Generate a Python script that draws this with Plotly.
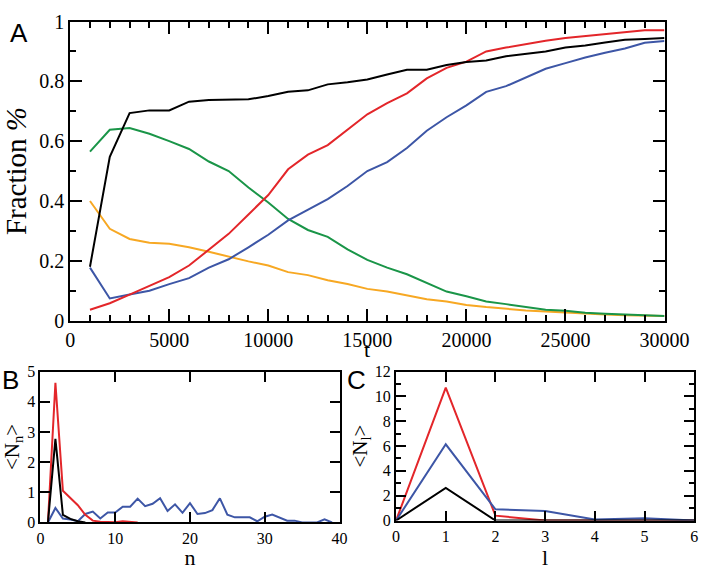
import plotly.graph_objects as go

# ---------------- data ----------------
t_vals = [1000, 2000, 3000, 4000, 5000, 6000, 7000, 8000, 9000, 10000,
          11000, 12000, 13000, 14000, 15000, 16000, 17000, 18000, 19000, 20000,
          21000, 22000, 23000, 24000, 25000, 26000, 27000, 28000, 29000, 30000]
black_A = [0.180, 0.548, 0.694, 0.703, 0.703, 0.732, 0.738, 0.738, 0.740, 0.751,
           0.765, 0.770, 0.790, 0.797, 0.806, 0.823, 0.839, 0.839, 0.855, 0.865,
           0.870, 0.884, 0.893, 0.900, 0.913, 0.920, 0.930, 0.939, 0.942, 0.945]
red_A = [0.036, 0.058, 0.087, 0.116, 0.145, 0.184, 0.238, 0.290, 0.355, 0.420,
         0.506, 0.555, 0.587, 0.640, 0.690, 0.727, 0.760, 0.810, 0.845, 0.866,
         0.900, 0.913, 0.925, 0.936, 0.945, 0.952, 0.958, 0.964, 0.971, 0.971]
blue_A = [0.177, 0.074, 0.087, 0.100, 0.122, 0.142, 0.177, 0.205, 0.245, 0.287,
          0.335, 0.370, 0.406, 0.450, 0.500, 0.530, 0.577, 0.635, 0.680, 0.720,
          0.765, 0.784, 0.813, 0.842, 0.861, 0.880, 0.896, 0.910, 0.929, 0.935]
green_A = [0.565, 0.638, 0.644, 0.625, 0.600, 0.574, 0.532, 0.500, 0.445, 0.395,
           0.340, 0.303, 0.280, 0.238, 0.203, 0.177, 0.155, 0.125, 0.097, 0.081,
           0.064, 0.055, 0.045, 0.036, 0.033, 0.026, 0.023, 0.020, 0.017, 0.015]
orange_A = [0.400, 0.307, 0.273, 0.260, 0.257, 0.245, 0.230, 0.213, 0.198, 0.184,
            0.162, 0.152, 0.135, 0.122, 0.106, 0.097, 0.084, 0.071, 0.064, 0.052,
            0.045, 0.039, 0.034, 0.030, 0.026, 0.022, 0.020, 0.018, 0.016, 0.015]

n_blue = [1, 2, 3, 4, 5, 6, 7, 8, 9, 10, 11, 12, 13, 14, 15, 16, 17, 18, 19, 20,
          21, 22, 23, 24, 25, 26, 27, 28, 29, 30, 31, 32, 33, 34, 35, 36, 37, 38, 39]
blue_B = [0.0, 0.48, 0.13, 0.10, 0.04, 0.28, 0.36, 0.13, 0.33, 0.33,
          0.52, 0.52, 0.79, 0.54, 0.62, 0.80, 0.38, 0.60, 0.32, 0.64,
          0.28, 0.31, 0.41, 0.80, 0.26, 0.17, 0.17, 0.17, 0.04, 0.19,
          0.26, 0.17, 0.06, 0.06, 0.0, 0.0, 0.0, 0.10, 0.0]
n_red = [1, 2, 3, 4, 5, 6, 7, 8, 9, 10, 11, 12, 13]
red_B = [0.0, 4.63, 1.05, 0.80, 0.57, 0.25, 0.06, 0.02, 0.01, 0.01, 0.04, 0.03, 0.0]
n_black = [1, 2, 3, 4, 5, 6]
black_B = [0.0, 2.77, 0.25, 0.12, 0.04, 0.0]

l_vals = [0, 1, 2, 3, 4, 5, 6]
red_C = [0.0, 10.7, 0.39, 0.0, 0.0, 0.0, 0.0]
blue_C = [0.0, 6.14, 0.90, 0.77, 0.08, 0.18, 0.0]
black_C = [0.0, 2.63, 0.0, 0.0, 0.0, 0.0, 0.0]

# ---------------- style ----------------
BLACK = "#000000"
RED = "#e3262a"
BLUE = "#3d56a6"
GREEN = "#1a9548"
ORANGE = "#f7a823"
SERIF = "Liberation Serif"
SANS = "Liberation Sans"

fig = go.Figure()


def line(x, y, color, xa, ya):
    fig.add_trace(go.Scatter(x=x, y=y, mode="lines", xaxis=xa, yaxis=ya,
                             line=dict(color=color, width=2), showlegend=False))


# panel A
line(t_vals, orange_A, ORANGE, "x", "y")
line(t_vals, green_A, GREEN, "x", "y")
line(t_vals, blue_A, BLUE, "x", "y")
line(t_vals, red_A, RED, "x", "y")
line(t_vals, black_A, BLACK, "x", "y")
# panel B
line(n_blue, blue_B, BLUE, "x2", "y2")
line(n_red, red_B, RED, "x2", "y2")
line(n_black, black_B, BLACK, "x2", "y2")
# panel C
line(l_vals, red_C, RED, "x3", "y3")
line(l_vals, blue_C, BLUE, "x3", "y3")
line(l_vals, black_C, BLACK, "x3", "y3")


def axis(domain, rng, dtick, anchor, fsize, ticklen, minor_dtick=None, title=None,
         tsize=22, standoff=0, tickformat=None):
    d = dict(domain=domain, range=rng, dtick=dtick, anchor=anchor,
             showgrid=False, zeroline=False, showline=True, linecolor="black",
             linewidth=2, mirror="allticks", ticks="inside", ticklen=ticklen,
             tickwidth=2, tickcolor="black",
             tickfont=dict(family=SERIF, size=fsize, color="black"))
    if tickformat:
        d["tickformat"] = tickformat
    if minor_dtick:
        d["minor"] = dict(dtick=minor_dtick, ticks="inside", ticklen=ticklen // 2,
                          tickwidth=2, tickcolor="black")
    if title:
        d["title"] = dict(text=title, standoff=standoff,
                          font=dict(family=SERIF, size=tsize, color="black"))
    return d


fig.update_layout(
    width=724, height=570,
    margin=dict(l=0, r=0, t=0, b=0),
    paper_bgcolor="white", plot_bgcolor="white",
    xaxis=axis([0.0939, 0.9503], [0, 30000], 5000, "y", 20, 12, 1000, tickformat="d"),
    yaxis=axis([0.4351, 0.9807], [0, 1], 0.2, "x", 20, 12, 0.1,
               title="Fraction <i>%</i>", tsize=29, standoff=4),
    xaxis2=axis([0.0511, 0.4820], [0, 40], 10, "y2", 16, 10, title="n", standoff=0),
    yaxis2=axis([0.0667, 0.3421], [0, 5], 1, "x2", 16, 10,
                title="&lt;N<sub>n</sub>&gt;", tsize=21, standoff=2),
    xaxis3=axis([0.5635, 0.9931], [0, 6], 1, "y3", 16, 10, title="l", standoff=0),
    yaxis3=axis([0.0702, 0.3421], [0, 12], 2, "x3", 16, 10, 1,
                title="&lt;N<sub>l</sub>&gt;", tsize=21, standoff=2),
    annotations=[
        dict(text="t", x=378 / 724, y=1 - 352 / 570, xref="paper", yref="paper",
             xanchor="center", yanchor="middle", showarrow=False,
             font=dict(family=SERIF, size=22, color="black")),
        dict(text="A", x=15 / 724, y=1 - 23 / 570, xref="paper", yref="paper",
             xanchor="center", yanchor="middle", showarrow=False,
             font=dict(family=SANS, size=26, color="black")),
        dict(text="B", x=6 / 724, y=1 - 384 / 570, xref="paper", yref="paper",
             xanchor="center", yanchor="middle", showarrow=False,
             font=dict(family=SANS, size=26, color="black")),
        dict(text="C", x=367 / 724, y=1 - 384 / 570, xref="paper", yref="paper",
             xanchor="center", yanchor="middle", showarrow=False,
             font=dict(family=SANS, size=26, color="black")),
    ],
)

# after the first draw, wait briefly and redraw once so the page is fully settled
post = """
var gdList = document.getElementsByClassName('plotly-graph-div');
var gd = gdList[gdList.length - 1];
setTimeout(function(){
  Plotly.relayout(gd, {}).then(function(){
    var m = document.createElement('div');
    m.style.width = '0px'; m.style.height = '0px';
    document.body.appendChild(m);
  });
}, 600);
"""

fig.write_html("out.html", post_script=post)
